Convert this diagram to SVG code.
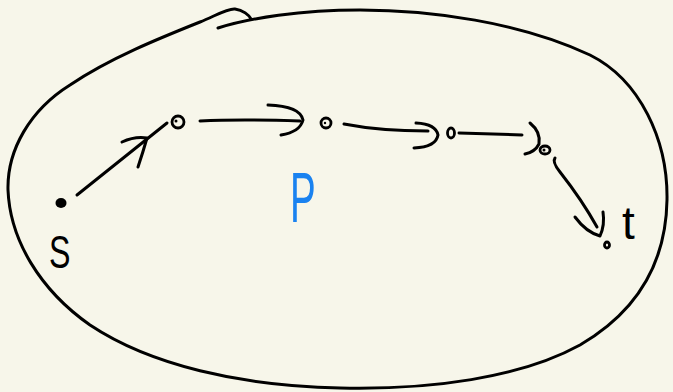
<svg xmlns="http://www.w3.org/2000/svg" width="673" height="392" viewBox="0 0 673 392">
<style>
.s{fill:none;stroke:#000;stroke-width:3;stroke-linecap:round;stroke-linejoin:round}
.n{fill:none;stroke:#000;stroke-width:2.8}
.lbl{font-family:"Liberation Sans",Arial,sans-serif;fill:#000}
</style>
<rect width="673" height="392" fill="#f7f6ea"/>
<g id="boundary">
<path class="s" d="M218,28 C250,18 300,10 360,10 C430,10 520,22 590,55 C640,80 668,140 667,200 C666,260 640,310 580,345 C520,378 430,390 340,388 C240,386 150,365 90,325 C40,290 10,240 8,190 C7,150 30,110 70,85 C110,58 160,38 200,22 C215,16 228,8 235,9 C243,10 249,15 251,19"/>
</g>
<g id="edges">
<path class="s" d="M77,195 L167,123"/>
<path class="s" d="M122,142 Q135,136 147,138 Q143,152 138,167"/>
<path class="s" d="M200,121 Q240,119 300,121"/>
<path class="s" d="M268,105 Q300,106 303,120 Q300,132 281,135"/>
<path class="s" d="M344,124 Q380,131 428,131"/>
<path class="s" d="M416,123 Q436,124 438,135 Q436,147 414,148"/>
<path class="s" d="M459,133 L522,135"/>
<path class="s" d="M530,123 Q541,132 539,144 Q535,152 525,154"/>
<path class="s" d="M555,158 Q552,162 560,172 Q582,200 597,227"/>
<path class="s" d="M575,217 Q586,232 600,236 Q605,225 603,212"/>
</g>
<g id="node-s"><ellipse cx="61" cy="203" rx="5.5" ry="5" fill="#000"/><text class="lbl" x="49" y="268" font-size="46" transform="translate(49 0) scale(0.7 1) translate(-49 0)">S</text></g>
<g id="node-1"><circle class="n" cx="178" cy="122" r="6"/><circle cx="176" cy="121" r="1.5"/></g>
<g id="node-2"><circle class="n" cx="326" cy="123" r="5"/><circle cx="325" cy="123" r="1.2"/></g>
<g id="node-3"><ellipse class="n" cx="451" cy="133" rx="3.5" ry="5"/></g>
<g id="node-4"><ellipse class="n" cx="545" cy="150" rx="5" ry="4"/><circle cx="544" cy="150" r="1.5"/></g>
<g id="node-t"><ellipse class="n" cx="607" cy="245" rx="2.5" ry="3"/><text class="lbl" x="622" y="239" font-size="46">t</text></g>
<g id="label-p"><text x="290" y="222" font-family="'Liberation Sans',Arial,sans-serif" font-size="70" fill="#1a82f0" transform="translate(290 0) scale(0.55 1) translate(-290 0)">P</text></g>
</svg>
